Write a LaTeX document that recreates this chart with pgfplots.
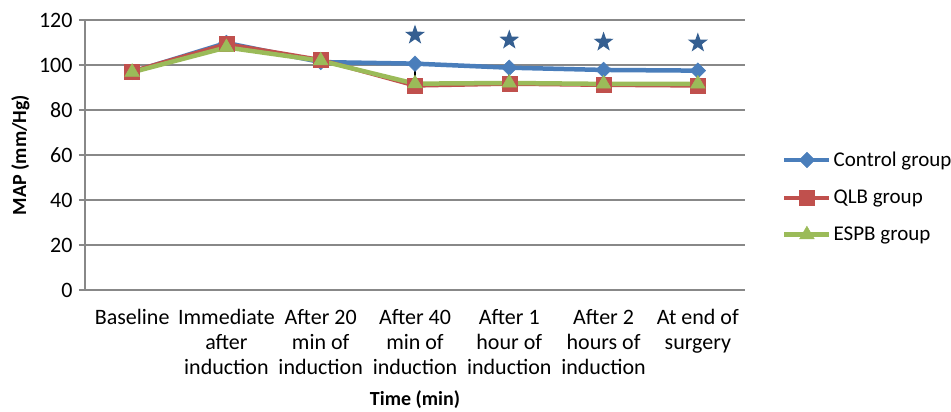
\documentclass[border=0pt]{standalone}
\usepackage{pgfplots}
\pgfplotsset{compat=1.18}
\usepackage{fontspec}
\setmainfont{Carlito}
\definecolor{cblue}{HTML}{4A7EBB}
\definecolor{cred}{HTML}{C0504D}
\definecolor{cgreen}{HTML}{9BBB59}
\definecolor{cstar}{HTML}{355F91}
\definecolor{cgrid}{HTML}{888888}
\pgfdeclareplotmark{fstar}{%
  \pgfpathmoveto{\pgfqpointpolar{90}{\pgfplotmarksize}}%
  \pgfpathlineto{\pgfqpointpolar{126}{0.40\pgfplotmarksize}}%
  \pgfpathlineto{\pgfqpointpolar{162}{\pgfplotmarksize}}%
  \pgfpathlineto{\pgfqpointpolar{198}{0.40\pgfplotmarksize}}%
  \pgfpathlineto{\pgfqpointpolar{234}{\pgfplotmarksize}}%
  \pgfpathlineto{\pgfqpointpolar{270}{0.40\pgfplotmarksize}}%
  \pgfpathlineto{\pgfqpointpolar{306}{\pgfplotmarksize}}%
  \pgfpathlineto{\pgfqpointpolar{342}{0.40\pgfplotmarksize}}%
  \pgfpathlineto{\pgfqpointpolar{18}{\pgfplotmarksize}}%
  \pgfpathlineto{\pgfqpointpolar{54}{0.40\pgfplotmarksize}}%
  \pgfpathclose
  \pgfusepathqfill
}
\begin{document}
\begin{tikzpicture}
\begin{axis}[
  name=ax,
  scale only axis,
  width=660pt, height=270pt,
  xmin=-0.5, xmax=6.5,
  ymin=0, ymax=120,
  ytick={0,20,...,120},
  xtick={0,1,2,3,4,5,6},
  xticklabels={Baseline,{Immediate\\after\\induction},{After 20\\min of\\induction},{After 40\\min of\\induction},{After 1\\hour of\\induction},{After 2\\hours of\\induction},{At end of\\surgery}},
  /pgf/number format/assume math mode=true,
  font=\fontsize{22}{25}\selectfont,
  xticklabel style={align=center, font=\fontsize{22}{25}\selectfont, yshift=-10pt},
  yticklabel style={font=\fontsize{22}{25}\selectfont, xshift=-3pt},
  axis x line*=bottom,
  axis y line*=left,
  axis line style={cgrid, line width=1.5pt, -},
  x tick style={draw=none},
  y tick style={cgrid, line width=1.2pt},
  tick align=outside,
  major tick length=6pt,
  ymajorgrids,
  grid style={cgrid, line width=1.2pt},
  ylabel={\bfseries MAP (mm/Hg)},
  xlabel={\bfseries Time (min)},
  ylabel style={font=\fontsize{20}{24}\selectfont, at={(axis description cs:-0.098,0.5)}, anchor=center},
  xlabel style={font=\fontsize{20}{24}\selectfont, at={(axis description cs:0.5,-0.407)}, anchor=center},
  legend style={draw=none, fill=none, at={(1.056,0.344)}, anchor=west,
    font=\fontsize{21}{25}\selectfont, row sep=18pt, inner sep=0pt,
    /tikz/every even column/.append style={column sep=0pt}},
  legend cell align=left,
  legend image code/.code={%
    \draw[#1, mark repeat=2, mark phase=2] plot coordinates {(0pt,0pt) (22.5pt,0pt) (45pt,0pt)};},
]
\addplot[cblue, line width=4.5pt, mark=square*, mark size=5.5pt, mark options={rotate=45, solid, line width=0.5pt}]
  coordinates {(0,96.9) (1,109.8) (2,101.3) (3,100.6) (4,98.8) (5,97.8) (6,97.5)};
\addlegendentry{Control group}
\addplot[cred, line width=4pt, mark=square*, mark size=7.5pt, mark options={solid, line width=0.5pt}]
  coordinates {(0,97.2) (1,109.3) (2,102.3) (3,90.8) (4,91.6) (5,91.1) (6,90.8)};
\addlegendentry{QLB group}
\addplot[cgreen, line width=4.5pt, mark=triangle*, mark size=8.5pt, mark options={solid, line width=0.5pt}]
  coordinates {(0,96.8) (1,107.8) (2,101.9) (3,91.7) (4,92.0) (5,91.6) (6,91.6)};
\addlegendentry{ESPB group}
\addplot[draw=none, mark=none, forget plot,
  error bars/.cd, y dir=both, y explicit, error mark=none,
  error bar style={black, line width=1.6pt}]
  coordinates {(0,96.9) +- (0,0.5) (1,108.4) +- (0,1.3) (2,101.8) +- (0,0.9)
    (3,96.0) +- (0,4.9) (4,95.1) +- (0,3.1) (5,94.7) +- (0,2.7) (6,94.2) +- (0,3.1)};
\addplot[only marks, mark=fstar, mark size=10.5pt, color=cstar, forget plot]
  coordinates {(3,113.3) (4,111.1) (5,110.2) (6,109.8)};
\end{axis}
\pgfresetboundingbox
\path[use as bounding box] ([shift={(-85pt,-122pt)}]ax.south west) rectangle ([shift={(866pt,290pt)}]ax.south west);
\end{tikzpicture}
\end{document}
